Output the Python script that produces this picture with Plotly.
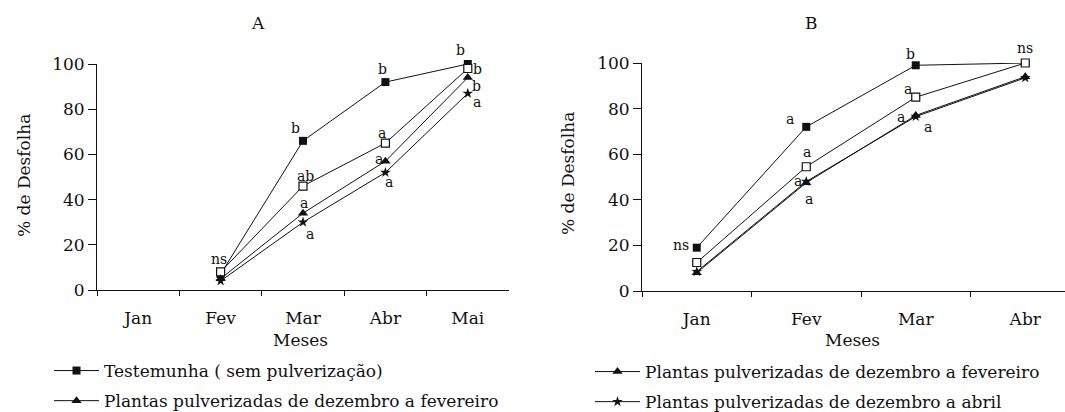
import plotly.graph_objects as go

# ---------------- data ----------------
months_a = ["Jan", "Fev", "Mar", "Abr", "Mai"]
months_b = ["Jan", "Fev", "Mar", "Abr"]

test_a = [None, 7, 66, 92, 100]
open_a = [None, 8, 46, 65, 98]
tri_a = [None, 5, 34, 57, 94]
star_a = [None, 4, 30, 52, 87]

test_b = [19, 72, 99, 100]
open_b = [12.5, 54.5, 85, 100]
tri_b = [8, 47.5, 77, 94]
star_b = [8.5, 48, 76.5, 93.5]

y_ticks = [0, 20, 40, 60, 80, 100]

name_test = "Testemunha ( sem pulverização)"
name_open = "Plantas pulverizadas de dezembro a março"
name_tri = "Plantas pulverizadas de dezembro a fevereiro"
name_star = "Plantas pulverizadas de dezembro a abril"

# significance letters: (series, month, text)
letters_a = [
    ("open", "Fev", "ns"),
    ("test", "Mar", "b"), ("open", "Mar", "ab"), ("tri", "Mar", "a"), ("star", "Mar", "a"),
    ("test", "Abr", "b"), ("open", "Abr", "a"), ("tri", "Abr", "a"), ("star", "Abr", "a"),
    ("test", "Mai", "b"), ("open", "Mai", "b"), ("tri", "Mai", "b"), ("star", "Mai", "a"),
]
letters_b = [
    ("test", "Jan", "ns"),
    ("test", "Fev", "a"), ("open", "Fev", "a"), ("tri", "Fev", "a"), ("star", "Fev", "a"),
    ("test", "Mar", "b"), ("open", "Mar", "a"), ("tri", "Mar", "a"), ("star", "Mar", "a"),
    ("open", "Abr", "ns"),
]
# label pixel offsets (layout only)
offs_a = [(-2, 13), (-8, 13), (2, 10), (1, 10), (7, -12), (-3, 13), (-3, 10), (-6, 2), (4, -10),
          (-7, 14), (10, 0), (9, -8), (9, -9)]
offs_b = [(-16, 3), (-16, 8), (1, 15), (-8, 2), (3, -17), (-5, 11), (-8, 8), (-15, -2), (12, -10), (0, 15)]

# ---------------- styling ----------------
FONT = "DejaVu Serif"
W, H = 1065, 412
BLACK = "#111111"

def px_x(p):
    return p / W

def px_y(p):
    return 1 - p / H

series_style = {
    "test": dict(symbol="square", size=8, color=BLACK, line=dict(width=0)),
    "open": dict(symbol="square", size=8, color="white", line=dict(width=1.2, color=BLACK)),
    "tri": dict(symbol="triangle-up", size=9, color=BLACK, line=dict(width=0)),
    "star": dict(symbol="star", size=8, color=BLACK, line=dict(width=0)),
}

fig = go.Figure()

panel_a = {"test": test_a, "open": open_a, "tri": tri_a, "star": star_a}
panel_b = {"test": test_b, "open": open_b, "tri": tri_b, "star": star_b}
names = {"test": name_test, "open": name_open, "tri": name_tri, "star": name_star}

legend_a = {"test": ("legend", "g1"), "tri": ("legend", "g2")}
legend_b = {"tri": ("legend2", "g3"), "star": ("legend2", "g4")}

for key in ["test", "open", "tri", "star"]:
    leg = legend_a.get(key)
    fig.add_trace(go.Scatter(
        x=months_a, y=panel_a[key], mode="lines+markers", name=names[key],
        line=dict(color=BLACK, width=1), marker=series_style[key],
        xaxis="x", yaxis="y", cliponaxis=False,
        showlegend=leg is not None,
        legend=leg[0] if leg else "legend",
        legendgroup=leg[1] if leg else None,
    ))

for key in ["test", "open", "tri", "star"]:
    leg = legend_b.get(key)
    fig.add_trace(go.Scatter(
        x=months_b, y=panel_b[key], mode="lines+markers", name=names[key],
        line=dict(color=BLACK, width=1), marker=series_style[key],
        xaxis="x2", yaxis="y2", cliponaxis=False,
        showlegend=leg is not None,
        legend=leg[0] if leg else "legend",
        legendgroup=leg[1] if leg else None,
    ))

annotations = []
lfont = dict(family=FONT, size=14, color=BLACK)
for (key, m, txt), (dx, dy) in zip(letters_a, offs_a):
    yv = panel_a[key][months_a.index(m)]
    annotations.append(dict(x=m, y=yv, xref="x", yref="y", text=txt, showarrow=False,
                            xanchor="center", yanchor="middle",
                            xshift=dx, yshift=dy, font=lfont))
for (key, m, txt), (dx, dy) in zip(letters_b, offs_b):
    yv = panel_b[key][months_b.index(m)]
    annotations.append(dict(x=m, y=yv, xref="x2", yref="y2", text=txt, showarrow=False,
                            xanchor="center", yanchor="middle",
                            xshift=dx, yshift=dy, font=lfont))

tfont = dict(family=FONT, size=17, color=BLACK)
legfont = dict(family=FONT, size=17, color=BLACK)

def paper_text(x, y, text, angle=0):
    return dict(x=px_x(x), y=px_y(y), xref="paper", yref="paper", text=text, textangle=angle,
                xanchor="center", yanchor="middle", showarrow=False, font=tfont)

annotations += [
    paper_text(258, 23, "A"),
    paper_text(812, 23, "B"),
    paper_text(300, 340, "Meses"),
    paper_text(852, 340, "Meses"),
    paper_text(24, 176, "% de Desfolha", -90),
    paper_text(568, 174, "% de Desfolha", -90),
]

# geometry (pixels)
ax_l, ax_r = 97, 509
ay_0, ay_100 = 290, 64
bx_l = 642
by_0, by_100 = 291, 63
b_cat_px = 109.5

xa_common = dict(type="category", showline=True, linecolor=BLACK, linewidth=1, ticks="outside",
                 ticklen=5, tickcolor=BLACK, tickson="boundaries", showgrid=False, zeroline=False,
                 tickfont=tfont, ticklabelstandoff=13)
ya_common = dict(range=[0, 100], tickvals=y_ticks, showline=True, linecolor=BLACK, linewidth=1,
                 ticks="outside", ticklen=8, tickcolor=BLACK, showgrid=False, zeroline=False,
                 tickfont=tfont)

b_span = (W - bx_l) / b_cat_px

fig.update_layout(
    width=W, height=H, margin=dict(l=0, r=0, t=0, b=0, autoexpand=False),
    paper_bgcolor="white", plot_bgcolor="white",
    xaxis=dict(xa_common, domain=[px_x(ax_l), px_x(ax_r)], range=[-0.5, 4.5], anchor="y",
               categoryorder="array", categoryarray=months_a),
    yaxis=dict(ya_common, domain=[px_y(ay_0), px_y(ay_100)], anchor="x"),
    xaxis2=dict(xa_common, domain=[px_x(bx_l), 1.0], range=[-0.5, -0.5 + b_span], anchor="y2",
                categoryorder="array", categoryarray=months_b),
    yaxis2=dict(ya_common, domain=[px_y(by_0), px_y(by_100)], anchor="x2"),
    annotations=annotations,
    legend=dict(x=px_x(49), y=px_y(353), xref="container", yref="container",
                xanchor="left", yanchor="top", font=legfont,
                bgcolor="rgba(0,0,0,0)", itemwidth=45, tracegroupgap=5, traceorder="grouped"),
    legend2=dict(x=px_x(590), y=px_y(354), xref="container", yref="container",
                 xanchor="left", yanchor="top", font=legfont,
                 bgcolor="rgba(0,0,0,0)", itemwidth=45, tracegroupgap=5, traceorder="grouped"),
    showlegend=True,
)

fig.write_html("out.html", config={"displayModeBar": False},
               post_script="document.body.style.margin='0';document.body.style.overflow='hidden';")
